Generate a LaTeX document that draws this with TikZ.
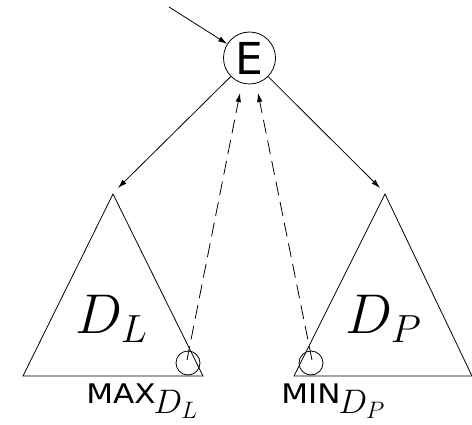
\RequirePackage{fix-cm}
\documentclass[tikz,border=0pt]{standalone}
\usepackage{graphicx}
\usepackage{fontspec}
\setsansfont{DejaVu Sans}
\usetikzlibrary{arrows.meta}
\newcommand{\wide}[1]{\scalebox{1.15}[1]{#1}}
\begin{document}
\begin{tikzpicture}[x=1pt,y=-1pt,
  line width=0.8pt,
  arr/.style={-{Latex[length=9pt,width=5.5pt]}},
  dsh/.style={arr,dash pattern=on 14pt off 7pt},
  smallc/.style={draw,circle,minimum size=24pt,inner sep=0pt},
  lbl/.style={inner sep=0pt,anchor=base west,font=\sffamily\fontsize{27}{29}\selectfont},
  big/.style={inner sep=0pt,anchor=base west,font=\fontsize{56}{58}\selectfont}]
\useasboundingbox (0,0) rectangle (472,425);
% root node
\node[draw,circle,minimum size=52pt,inner sep=0pt,font=\sffamily\fontsize{44}{46}\selectfont] (E) at (249.5,58) {\raisebox{-1pt}{E}};
\coordinate (src) at (169,7);
\draw[arr] (src) -- (E);
% triangles
\coordinate (La) at (113,194);
\coordinate (Lb) at (23,376);
\coordinate (Lc) at (203,376);
\coordinate (Ra) at (385,194);
\coordinate (Rb) at (294,376);
\coordinate (Rc) at (472,376);
\draw (La) -- (Lb) -- (Lc) -- cycle;
\draw (Ra) -- (Rb) -- (Rc) -- cycle;
\coordinate (tipL) at (118,188);
\coordinate (tipR) at (380,188);
\draw[arr] (E) -- (tipL);
\draw[arr] (E) -- (tipR);
% small circles
\node[smallc] (mx) at (188,363) {};
\node[smallc] (mn) at (311,363) {};
\coordinate (dL) at (240,93);
\coordinate (dR) at (258,93);
\draw[dsh] (mx.center) ++(-1,-3) -- (dL);
\draw[dsh] (mn.center) ++(1,-3) -- (dR);
% labels
\node[big] (DL) at (75,334) {$D_L$};
\node[big] (DP) at (345,334) {$D_P$};
\node[lbl] (MAX) at (86,403) {\wide{MAX}\hspace{-2pt}\raisebox{-10pt}{\fontsize{34}{36}\selectfont$D_L$}};
\node[lbl] (MIN) at (281,403) {\wide{MIN}\hspace{-2pt}\raisebox{-10pt}{\fontsize{34}{36}\selectfont$D_P$}};
\end{tikzpicture}
\end{document}
